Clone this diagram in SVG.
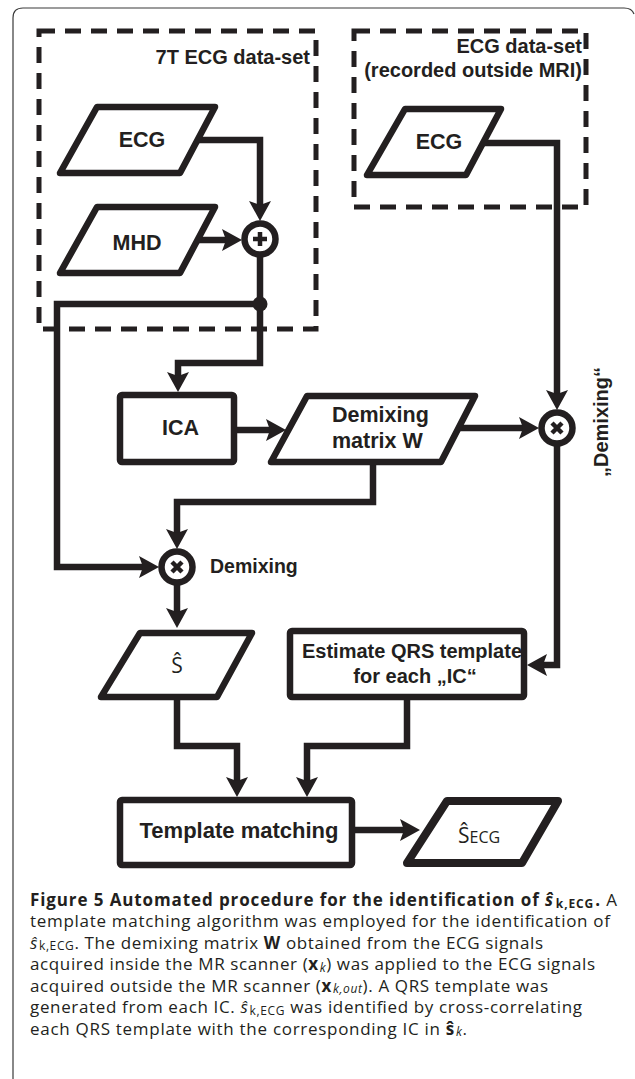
<svg xmlns="http://www.w3.org/2000/svg" width="635" height="1079" viewBox="0 0 635 1079">
<style>
.frame{fill:none;stroke:#3a3a3a;stroke-width:1.2}
.dash{fill:none;stroke:#231f20;stroke-width:5;stroke-dasharray:16 10}
.n{fill:#fff;stroke:#231f20;stroke-width:6.5;stroke-linejoin:round}
.nt{fill:#fff;stroke:#231f20;stroke-width:8;stroke-linejoin:round}
.c{fill:none;stroke:#231f20;stroke-width:6.5;stroke-linejoin:miter}
.a{marker-end:url(#ah)}
.sym{stroke:#231f20;stroke-width:4.5;stroke-linecap:butt}
.lb{font-family:"Liberation Sans",Arial,sans-serif;font-weight:bold;fill:#231f20}
.t{font-size:21.5px;text-anchor:middle}
.grp{font-size:20px;text-anchor:end}
.sf{font-family:"Open Sans","Noto Sans",sans-serif;fill:#231f20}
.cap{font-family:"Open Sans","Noto Sans",sans-serif;font-size:17px;fill:#231f20}
.sub{font-size:12px}
</style>
<defs>
<marker id="ah" viewBox="0 0 20 22" refX="10" refY="11" markerWidth="20" markerHeight="22" markerUnits="userSpaceOnUse" orient="auto">
<path d="M0,0 L20,11 L0,22 L4,11 Z" fill="#231f20"/>
</marker>
</defs>
<rect width="635" height="1079" fill="#fff"/>
<path class="frame" d="M13,1079 V18 Q13,8 23,8 H624 Q632,8 634,14"/>

<g id="group-7t">
<rect class="dash" x="39" y="31" width="277" height="298"/>
<text class="lb grp" x="310" y="64">7T ECG data-set</text>
</g>
<g id="group-outside">
<rect class="dash" x="354" y="31" width="232" height="176"/>
<text class="lb grp" x="582" y="53">ECG data-set</text>
<text class="lb grp" x="582" y="77">(recorded outside MRI)</text>
</g>

<g id="connectors">
<path class="c a" d="M198,140 H260 V211"/>
<path class="c a" d="M198,240 H232"/>
<path class="c" d="M260,257 V304"/>
<path class="c a" d="M260,304 V363 H178 V382"/>
<path class="c a" d="M260,304 H57 V567 H149"/>
<path class="c a" d="M237,430 H276"/>
<path class="c a" d="M459,428 H529"/>
<path class="c a" d="M483,143 H557 V400"/>
<path class="c a" d="M557,446 V665 H537"/>
<path class="c a" d="M373,462 V502 H177 V539"/>
<path class="c a" d="M177,585 V618"/>
<path class="c a" d="M177,697 V746 H237 V787"/>
<path class="c a" d="M407,697 V746 H307 V787"/>
<path class="c a" d="M352,830 H410"/>
<circle cx="260" cy="304" r="7.5" fill="#231f20"/>
</g>

<g id="ecg-7t">
<path class="n" d="M97,107 H215 L180,173 H60 Z"/>
<text class="lb t" x="142" y="147">ECG</text>
</g>
<g id="mhd">
<path class="n" d="M97,207 H215 L180,273 H60 Z"/>
<text class="lb t" x="137" y="250">MHD</text>
</g>
<g id="sum">
<circle class="n" cx="260" cy="239" r="15.5"/>
<path class="sym" d="M253,239 H267 M260,232 V246"/>
</g>
<g id="ecg-out">
<path class="n" d="M405,109 H501 L466,175 H367 Z"/>
<text class="lb t" x="439" y="149">ECG</text>
</g>
<g id="ica">
<rect class="n" x="120" y="395" width="114" height="67" rx="2"/>
<text class="lb t" x="180.5" y="435">ICA</text>
</g>
<g id="demixing-matrix">
<path class="n" d="M307,396 H475 L441,462 H271 Z"/>
<text class="lb" font-size="21.5" x="332" y="422">Demixing</text>
<text class="lb" font-size="21.5" x="332" y="448">matrix W</text>
</g>
<g id="mult-right">
<circle class="n" cx="557" cy="428" r="15.5"/>
<path class="sym" d="M552,423 L562,433 M562,423 L552,433"/>
<text class="lb" font-size="20" text-anchor="middle" transform="translate(608,422) rotate(-90)">„Demixing“</text>
</g>
<g id="mult-left">
<circle class="n" cx="177" cy="567" r="15.5"/>
<path class="sym" d="M172,562 L182,572 M182,562 L172,572"/>
<text class="lb" font-size="19.5" x="210" y="573">Demixing</text>
</g>
<g id="s-hat">
<path class="n" d="M140,633 H252 L217,697 H101 Z"/>
<text class="sf" font-size="21" text-anchor="middle" x="177" y="673">Ŝ</text>
</g>
<g id="estimate">
<rect class="n" x="290" y="631" width="234" height="66" rx="2"/>
<text class="lb" font-size="20" text-anchor="middle" x="412" y="658">Estimate QRS template</text>
<text class="lb" font-size="20" text-anchor="middle" x="415" y="683">for each „IC“</text>
</g>
<g id="template-matching">
<rect class="n" x="120" y="800" width="232" height="65" rx="2"/>
<text class="lb" font-size="22" text-anchor="middle" x="239" y="838">Template matching</text>
</g>
<g id="s-ecg">
<path class="nt" d="M447,801 H558 L522,863 H407 Z"/>
<text class="sf" x="458" y="843"><tspan font-size="21">Ŝ</tspan><tspan font-size="16">ECG</tspan></text>
</g>

<g id="caption" class="cap">
<text x="30" y="906" textLength="587" lengthAdjust="spacing"><tspan font-weight="bold">Figure 5 Automated procedure for the identification of </tspan><tspan font-weight="bold" font-style="italic">ŝ</tspan><tspan class="sub" font-weight="bold" dx="2" dy="1.5">k,ECG</tspan><tspan font-weight="bold" dx="1" dy="-1.5">.</tspan> A</text>
<text x="30" y="927" textLength="580" lengthAdjust="spacing">template matching algorithm was employed for the identification of</text>
<text x="30" y="948.5" textLength="513" lengthAdjust="spacing"><tspan font-style="italic">ŝ</tspan><tspan class="sub" dx="1" dy="1.5">k,ECG</tspan><tspan dy="-1.5">. The demixing matrix </tspan><tspan font-weight="bold">W</tspan> obtained from the ECG signals</text>
<text x="30" y="970" textLength="565" lengthAdjust="spacing">acquired inside the MR scanner (<tspan font-weight="bold">x</tspan><tspan class="sub" font-style="italic" dx="1" dy="1.5">k</tspan><tspan dy="-1.5">) was applied to the ECG signals</tspan></text>
<text x="30" y="991.5" textLength="518" lengthAdjust="spacing">acquired outside the MR scanner (<tspan font-weight="bold">x</tspan><tspan class="sub" font-style="italic" dx="1" dy="1.5">k,out</tspan><tspan dy="-1.5">). A QRS template was</tspan></text>
<text x="30" y="1013" textLength="552" lengthAdjust="spacing">generated from each IC. <tspan font-style="italic">ŝ</tspan><tspan class="sub" dx="1" dy="1.5">k,ECG</tspan><tspan dy="-1.5"> was identified by cross-correlating</tspan></text>
<text x="30" y="1034.5" textLength="437" lengthAdjust="spacing">each QRS template with the corresponding IC in <tspan font-weight="bold">ŝ</tspan><tspan class="sub" font-style="italic" dx="1" dy="1.5">k</tspan><tspan dy="-1.5">.</tspan></text>
</g>
</svg>
